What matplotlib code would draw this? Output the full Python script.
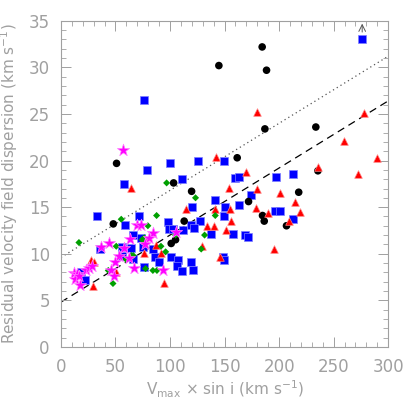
import matplotlib
matplotlib.use("Agg")
import matplotlib.pyplot as plt
import numpy as np

# Data
circ_x = [184.5, 144.8, 188.5, 187, 233.7, 51, 161.6, 103.3, 119.8, 218, 172, 235.6, 48, 113, 184.8, 186.4, 206.8, 101.1, 105.1]
circ_y = [32.2, 30.2, 29.7, 23.4, 23.6, 19.7, 20.3, 17.6, 16.7, 16.6, 15.6, 18.9, 13.2, 13.5, 14.1, 13.5, 13.0, 11.1, 11.5]

sq_x = [276.2, 76.1, 99.6, 125.3, 149.4, 79.1, 110.9, 57.4, 159.8, 162.8, 197.4, 212.6, 174.5, 141.2, 120.4, 150.3, 162.8,
        33.3, 71.2, 149.4, 196.1, 201.0, 213, 98.4, 127.1, 99.3, 102.4, 118.8, 121.9, 111.8, 58.7, 65.7, 73.6, 74.9,
        56.2, 64.4, 36, 84.3, 137.2, 157.3, 168.3, 171.7, 86.2, 89.8, 101.1, 106.9, 106, 119.2, 111.2, 121.3, 76.1,
        148.2, 149.7, 65.7, 55.9, 18, 22.3]
sq_y = [33.1, 26.5, 19.7, 20.0, 19.9, 19.0, 18.0, 17.5, 18.1, 18.2, 18.2, 18.6, 16.3, 15.8, 15.0, 15.0, 15.2,
        14.0, 14.0, 14.0, 14.6, 14.6, 13.7, 13.4, 13.5, 12.7, 12.6, 13.1, 12.8, 12.5, 13.1, 12.0, 11.7, 10.7,
        10.7, 10.6, 10.5, 10.5, 12.1, 12.1, 12.0, 11.8, 9.6, 9.1, 9.6, 9.3, 8.7, 9.1, 8.1, 8.3, 8.6,
        9.6, 9.3, 9.4, 9.8, 8.0, 7.2]

tri_x = [179.7, 278.3, 259.4, 142.1, 289.6, 272.2, 235.9, 169.6, 63.9, 154.3, 179.4, 201, 114.3, 141.2, 155.2, 179,
         215, 219, 189.7, 155.8, 133.8, 140.2, 151.2, 128.9, 195.5, 92, 75.8, 77.3, 27.8, 30.2, 50.1, 29.6, 94.7,
         145.7, 208.7, 86.8]
tri_y = [25.2, 25.1, 22.1, 20.4, 20.3, 18.6, 19.3, 18.8, 17.1, 17.1, 16.9, 16.5, 14.8, 14.8, 14.8, 14.9,
         15.5, 14.5, 14.4, 13.5, 13.0, 13.0, 12.5, 10.8, 10.5, 10.1, 10.1, 11.5, 9.3, 9.1, 8.0, 6.5, 6.9,
         9.6, 13.5, 10.9]

dia_x = [96.9, 123.4, 141.5, 87.7, 55.3, 79.7, 16.5, 50.7, 91.7, 131.7, 128.6, 105.1, 96, 66.3, 59.6, 76.4, 77.6,
         84.3, 88, 47.7, 43.4, 64.5, 74.5]
dia_y = [17.6, 16.0, 14.1, 14.1, 13.7, 13.0, 11.2, 10.8, 10.8, 12.0, 10.5, 12.0, 10.2, 9.8, 9.4, 11.7, 8.4,
         8.2, 8.2, 6.8, 8.2, 9.8, 11.5]

star_x = [57.1, 70, 73.6, 84.3, 80.9, 44.3, 36.7, 63, 58, 52.9, 76.7, 105.1, 49.2, 45.8, 48.3, 62, 66.9, 93.2,
          11.9, 15, 13, 16.2, 17.4, 22.9, 26, 28.4]
star_y = [21.1, 13.1, 13.1, 12.2, 11.7, 11.1, 10.7, 11.6, 10.6, 9.8, 11.0, 12.3, 9.1, 8.3, 7.6, 9.5, 8.5, 8.2,
          7.9, 7.8, 7.3, 7.6, 6.6, 8.3, 8.5, 8.7]

fit_slope = 0.072
fit_b_dashed = 4.8
fit_b_dotted = 9.6

fig = plt.figure(figsize=(4.09, 4.09), dpi=100)
ax = fig.add_axes([0.149, 0.152, 0.800, 0.797])

gray = '#a0a0a0'

xx = np.array([0, 300])
ax.plot(xx, fit_b_dashed + fit_slope * xx, color='black', ls=(0, (6, 4)), lw=0.9, zorder=1)
ax.plot(xx, fit_b_dotted + fit_slope * xx, color='#555555', ls=(0, (1, 2.5)), lw=0.9, zorder=1)

ax.scatter(sq_x, sq_y, marker='s', s=28, color='#0000ff', edgecolors='#8080ff', linewidths=0.5, zorder=2)
ax.scatter(circ_x, circ_y, marker='o', s=30, color='black', edgecolors='none', zorder=3)
ax.scatter(tri_x, tri_y, marker='^', s=30, color='#ff0000', edgecolors='#ff8080', linewidths=0.5, zorder=4)
ax.scatter(dia_x, dia_y, marker='D', s=13, color='#00a000', edgecolors='none', zorder=5)
ax.scatter(star_x, star_y, marker='*', s=85, color='#ff00ff', edgecolors='#ff80ff', linewidths=0.5, zorder=6)

# upper-limit arrow on the top square
ax.annotate('', xy=(sq_x[0], 35.0), xytext=(sq_x[0], sq_y[0] + 0.4),
            arrowprops=dict(arrowstyle='->', color='#555555', lw=0.7, mutation_scale=12), zorder=7)

ax.set_xlim(0, 300)
ax.set_ylim(0, 35)
ax.set_xticks(np.arange(0, 301, 50))
ax.set_yticks(np.arange(0, 36, 5))
ax.set_xticks(np.arange(0, 301, 10), minor=True)
ax.set_yticks(np.arange(0, 36, 1), minor=True)
ax.tick_params(which='both', direction='in', top=True, right=True, colors=gray, labelcolor=gray)
ax.tick_params(which='major', length=7, width=0.7, labelsize=12, pad=8)
ax.tick_params(which='minor', length=3.5, width=0.6)
for sp in ax.spines.values():
    sp.set_color(gray)
    sp.set_linewidth(0.8)

ax.set_xlabel(r'V$_{\rm max}$ $\times$ sin i (km s$^{-1}$)', color=gray, fontsize=11, labelpad=2)
ax.set_ylabel(r'Residual velocity field dispersion (km s$^{-1}$)', color=gray, fontsize=11, labelpad=6)

fig.savefig('out.png', dpi=100)
